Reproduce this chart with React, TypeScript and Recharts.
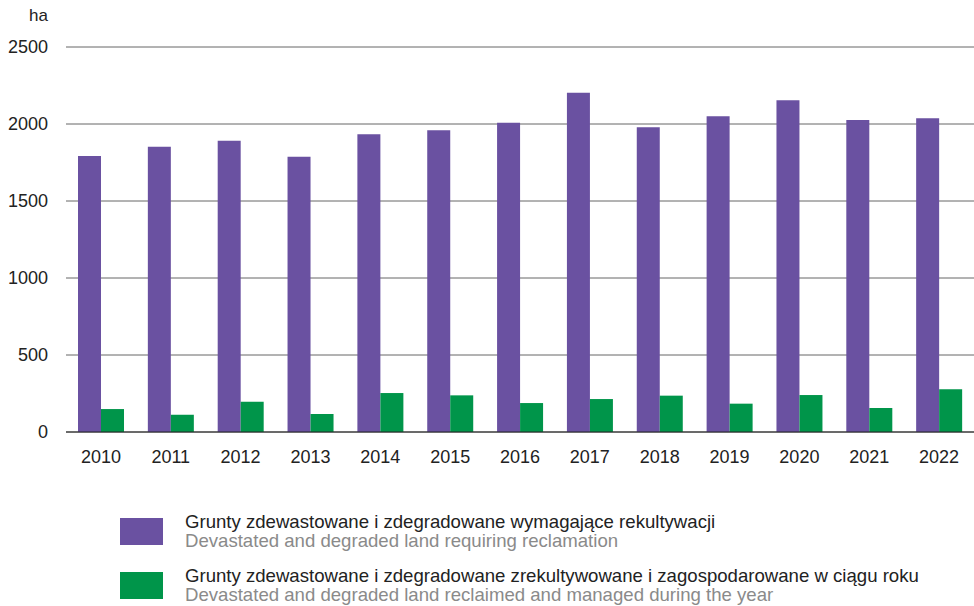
import { Bar, BarChart, CartesianGrid, Legend, XAxis, YAxis } from "recharts";

const years = ["2010", "2011", "2012", "2013", "2014", "2015", "2016", "2017", "2018", "2019", "2020", "2021", "2022"];
const requiring = [1792, 1852, 1891, 1788, 1934, 1960, 2008, 2203, 1979, 2050, 2154, 2026, 2037];
const reclaimed = [149, 112, 197, 117, 253, 238, 188, 214, 236, 184, 240, 156, 277];
const yTicks = [0, 500, 1000, 1500, 2000, 2500];

const seriesPl = [
  "Grunty zdewastowane i zdegradowane wymagające rekultywacji",
  "Grunty zdewastowane i zdegradowane zrekultywowane i zagospodarowane w ciągu roku",
];
const seriesEn = [
  "Devastated and degraded land requiring reclamation",
  "Devastated and degraded land reclaimed and managed during the year",
];
const colors = ["#6a51a1", "#00954a"];

const FONT = "'Liberation Sans', Arial, sans-serif";

const data = years.map((y, i) => ({ year: y, requiring: requiring[i], reclaimed: reclaimed[i] }));

const LegendBox = () => (
  <div style={{ fontFamily: FONT, fontSize: 18.6, lineHeight: "19px" }}>
    {seriesPl.map((pl, i) => (
      <div key={pl} style={{ display: "flex", alignItems: "center", marginBottom: i === 0 ? 16 : 0 }}>
        <div style={{ width: 43, height: 27, background: colors[i], marginRight: 22 }} />
        <div>
          <div style={{ color: "#222" }}>{pl}</div>
          <div style={{ color: "#8a8a8a" }}>{seriesEn[i]}</div>
        </div>
      </div>
    ))}
  </div>
);

export default function App() {
  return (
    <div style={{ position: "absolute", left: 0, top: 0 }}>
      <BarChart
        width={974}
        height={606}
        data={data}
        margin={{ top: 47, right: 0, bottom: 144, left: 0 }}
        barGap={0}
        barSize={23}
      >
        <CartesianGrid vertical={false} stroke="#666" />
        <XAxis
          dataKey="year"
          tickLine={false}
          axisLine={{ stroke: "#222" }}
          tick={{ fill: "#222", fontSize: 18, fontFamily: FONT }}
          tickMargin={12}
          height={30}
        />
        <YAxis
          width={66}
          domain={[0, 2500]}
          ticks={yTicks}
          axisLine={false}
          tickLine={false}
          tickSize={0}
          tickMargin={18}
          tick={{ fill: "#222", fontSize: 18, fontFamily: FONT }}
          label={{
            content: ({ viewBox }: any) => (
              <text
                x={viewBox.x + viewBox.width - 18}
                y={viewBox.y - 30}
                textAnchor="end"
                dominantBaseline="middle"
                fill="#222"
                fontSize={17}
                fontFamily={FONT}
              >
                ha
              </text>
            ),
          }}
        />
        <Legend
          layout="vertical"
          align="center"
          verticalAlign="middle"
          content={<LegendBox />}
          wrapperStyle={{ top: 512, left: 120, width: 850 }}
        />
        <Bar dataKey="requiring" name={seriesPl[0]} fill={colors[0]} isAnimationActive={false} />
        <Bar dataKey="reclaimed" name={seriesPl[1]} fill={colors[1]} isAnimationActive={false} />
      </BarChart>
    </div>
  );
}
